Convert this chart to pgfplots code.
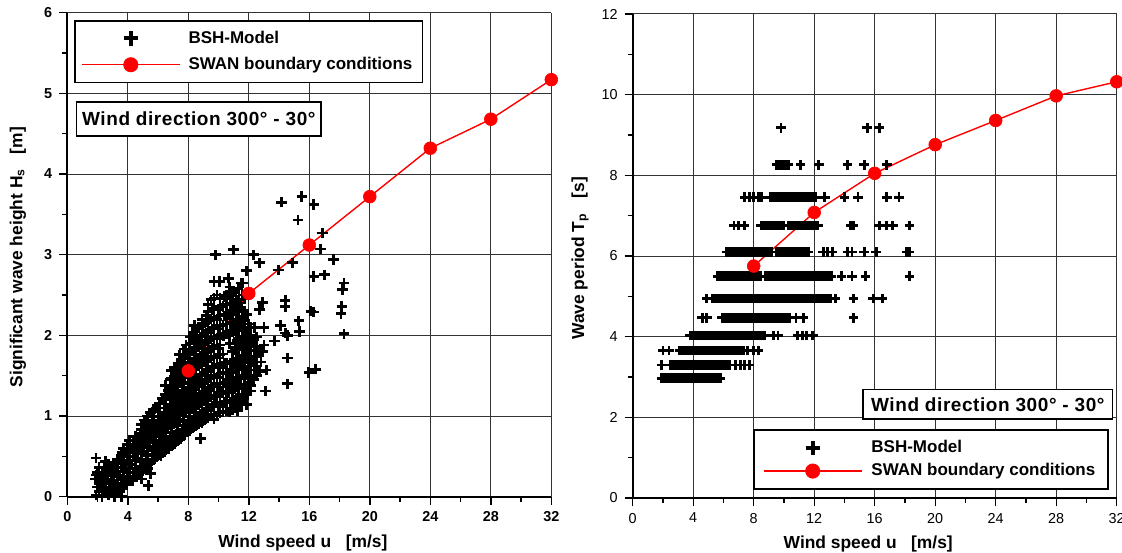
\documentclass[border=0pt]{standalone}
\usepackage{fontspec}
\setmainfont{Liberation Sans}
\newfontfamily\boxfont[LetterSpace=3]{Liberation Sans}
\usepackage{pgfplots}
\pgfplotsset{compat=1.18}
\pgfdeclareplotmark{bplus}{%
  \pgfsetlinewidth{1.4pt}\pgfsetbuttcap
  \pgfpathmoveto{\pgfqpoint{-\pgfplotmarksize}{0pt}}%
  \pgfpathlineto{\pgfqpoint{\pgfplotmarksize}{0pt}}%
  \pgfpathmoveto{\pgfqpoint{0pt}{-\pgfplotmarksize}}%
  \pgfpathlineto{\pgfqpoint{0pt}{\pgfplotmarksize}}%
  \pgfusepathqstroke}
\pgfdeclareplotmark{bplusL}{%
  \pgfsetlinewidth{2pt}\pgfsetbuttcap
  \pgfpathmoveto{\pgfqpoint{-\pgfplotmarksize}{0pt}}%
  \pgfpathlineto{\pgfqpoint{\pgfplotmarksize}{0pt}}%
  \pgfpathmoveto{\pgfqpoint{0pt}{-\pgfplotmarksize}}%
  \pgfpathlineto{\pgfqpoint{0pt}{\pgfplotmarksize}}%
  \pgfusepathqstroke}
\pgfplotsset{
  base/.style={
    scale only axis, width=242pt, height=242pt,
    xmin=0, xmax=32, xtick={0,4,...,32}, minor x tick num=1,
    axis x line*=bottom, axis y line*=left,
    tick align=outside, major tick length=4pt, minor tick length=2.6pt,
    grid=major, major grid style={black!80, line width=0.5pt},
    axis line style={line width=0.8pt, -},
    every tick/.style={black, line width=0.7pt},
    /pgf/number format/assume math mode=true,
    label style={font=\bfseries\fontsize{8.7}{10}\selectfont},
    xlabel={Wind speed u\ \ \ [m/s]},
    xlabel style={at={(axis description cs:0.4866,-0.104)}, anchor=base},
    clip=false,
    legend cell align=left,
    legend image code/.code={\draw[mark repeat=2,mark phase=2,#1,mark size=3.6pt] plot coordinates {(0pt,0pt) (24.5pt,0pt) (49pt,0pt)};},
  },
  bsh/.style={only marks, mark=bplus, black, mark size=2.6pt, legend image post style={mark=bplusL}},
  swan/.style={red, line width=0.7pt, mark=*, mark size=3.2pt, mark options={fill=red, draw=red, line width=0.3pt}},
}
\begin{document}
\begin{tikzpicture}
\useasboundingbox (0,0) rectangle (561pt,276pt);
% ---------------- left panel ----------------
\begin{axis}[base, at={(33.65pt,27.65pt)}, anchor=south west,
  ymin=0, ymax=6, ytick={0,1,...,6}, minor y tick num=1,
  ticklabel style={font=\bfseries\fontsize{7.2}{8}\selectfont},
  ylabel={Significant wave height H\textsubscript{s}\ \ \ [m]},
  ylabel style={at={(axis description cs:-0.1019,0.495)}, anchor=center},
  legend style={at={(axis description cs:0.0145,0.985)}, anchor=north west,
    draw=black, line width=0.8pt, fill=white, font=\bfseries\fontsize{8.5}{10}\selectfont,
    inner xsep=3pt, inner ysep=3pt, row sep=1.5pt, column sep=2pt},
]
\addplot[bsh] coordinates {
(1.9,0.02)(2.0,0.12)(1.85,0.22)(2.0,0.3)
(2.3,0.0)(2.4,0.1)(2.25,0.2)(2.35,0.3)
(2.7,0.02)(2.8,0.12)(2.65,0.22)(2.75,0.32)(2.7,0.4)
(3.1,0.0)(3.2,0.1)(3.05,0.2)(3.15,0.3)(3.1,0.42)
(3.5,0.06)(3.6,0.16)(3.45,0.26)(3.55,0.36)(3.5,0.46)(3.6,0.55)
(3.9,0.15)(4.0,0.25)(3.85,0.35)(3.95,0.45)(3.9,0.55)(4.0,0.65)
(4.3,0.2)(4.4,0.3)(4.25,0.4)(4.35,0.5)(4.3,0.6)(4.4,0.7)
(4.7,0.28)(4.8,0.38)(4.65,0.48)(4.75,0.58)(4.7,0.68)(4.8,0.78)
(5.1,0.35)(5.2,0.46)(5.05,0.56)(5.15,0.66)(5.1,0.76)(5.2,0.86)(5.1,0.95)
(5.5,0.42)(5.6,0.52)(5.45,0.62)(5.55,0.72)(5.5,0.83)(5.6,0.94)(5.5,1.04)
(5.9,0.5)(6.0,0.6)(5.85,0.7)(5.95,0.8)(5.9,0.9)(6.0,1.0)(5.9,1.1)
(6.3,0.55)(6.4,0.66)(6.25,0.77)(6.35,0.88)(6.3,0.99)(6.4,1.1)(6.3,1.22)
(6.7,0.6)(6.8,0.72)(6.65,0.84)(6.75,0.96)(6.7,1.08)(6.8,1.2)(6.7,1.32)(6.8,1.45)
(7.1,0.66)(7.2,0.78)(7.05,0.9)(7.15,1.02)(7.1,1.14)(7.2,1.26)(7.1,1.38)(7.2,1.5)(7.1,1.6)
(7.5,0.72)(7.6,0.84)(7.45,0.96)(7.55,1.08)(7.5,1.2)(7.6,1.32)(7.5,1.44)(7.6,1.56)(7.5,1.68)(7.4,1.76)
(7.9,0.8)(8.0,0.92)(7.85,1.04)(7.95,1.16)(7.9,1.28)(8.0,1.4)(7.9,1.52)(8.0,1.64)(7.9,1.76)(7.85,1.88)
(8.3,0.85)(8.4,0.97)(8.25,1.09)(8.35,1.21)(8.3,1.33)(8.4,1.45)(8.3,1.57)(8.4,1.69)(8.3,1.81)(8.4,1.93)(8.3,2.04)
(8.7,0.9)(8.8,1.02)(8.65,1.14)(8.75,1.26)(8.7,1.38)(8.8,1.5)(8.7,1.62)(8.8,1.74)(8.7,1.86)(8.8,1.98)(8.7,2.1)
(9.1,0.95)(9.2,1.07)(9.05,1.19)(9.15,1.31)(9.1,1.43)(9.2,1.55)(9.1,1.67)(9.2,1.79)(9.1,1.91)(9.2,2.03)(9.1,2.15)(9.2,2.25)
(9.5,1.0)(9.6,1.12)(9.45,1.24)(9.55,1.36)(9.5,1.48)(9.6,1.6)(9.5,1.72)(9.6,1.84)(9.5,1.96)(9.6,2.08)(9.5,2.2)(9.6,2.32)(9.5,2.44)
(9.9,1.0)(10.0,1.12)(9.85,1.24)(9.95,1.36)(9.9,1.48)(10.0,1.6)(9.9,1.72)(10.0,1.84)(9.9,1.96)(10.0,2.08)(9.9,2.2)(10.0,2.32)(9.9,2.5)
(10.3,1.05)(10.4,1.17)(10.25,1.29)(10.35,1.41)(10.3,1.53)(10.4,1.65)(10.3,1.77)(10.35,2.0)(10.3,2.12)(10.4,2.24)(10.3,2.36)(10.4,2.48)
(10.7,1.05)(10.8,1.17)(10.65,1.29)(10.75,1.41)(10.7,1.53)(10.8,1.65)(10.75,1.9)(10.7,2.02)(10.8,2.14)(10.7,2.26)(10.8,2.38)(10.7,2.5)(10.75,2.6)
(11.1,1.1)(11.2,1.22)(11.05,1.34)(11.15,1.46)(11.1,1.58)(11.2,1.7)(11.1,1.82)(11.2,1.94)(11.1,2.06)(11.2,2.18)(11.1,2.3)(11.2,2.42)(11.1,2.54)
(11.5,1.15)(11.6,1.27)(11.45,1.39)(11.55,1.51)(11.5,1.63)(11.6,1.75)(11.5,1.87)(11.6,1.99)(11.5,2.11)(11.6,2.23)(11.5,2.35)(11.6,2.5)(11.5,2.65)
(11.9,1.3)(12.0,1.42)(11.85,1.54)(11.95,1.66)(11.9,1.78)(12.0,1.9)(11.9,2.02)(12.0,2.14)(11.9,2.26)(11.85,2.8)
(12.3,1.45)(12.4,1.57)(12.25,1.69)(12.35,1.81)(12.3,1.95)(12.4,2.1)
(12.7,1.55)(12.8,1.67)(12.7,1.8)
(2.1,0.06)(2.1,0.16)(2.1,0.26)(2.1,0.36)
(2.5,0.06)(2.5,0.16)(2.5,0.26)(2.5,0.36)
(2.9,0.07)(2.9,0.17)(2.9,0.27)(2.9,0.37)
(3.3,0.05)(3.3,0.15)(3.3,0.25)(3.3,0.36)(3.3,0.46)
(3.7,0.11)(3.7,0.21)(3.7,0.31)(3.7,0.41)(3.7,0.51)(3.7,0.6)
(4.1,0.2)(4.1,0.3)(4.1,0.4)(4.1,0.5)(4.1,0.6)(4.1,0.7)
(4.5,0.25)(4.5,0.35)(4.5,0.45)(4.5,0.55)(4.5,0.65)(4.5,0.75)
(4.9,0.32)(4.9,0.43)(4.9,0.53)(4.9,0.63)(4.9,0.73)(4.9,0.83)(4.9,0.9)
(5.3,0.4)(5.3,0.51)(5.3,0.61)(5.3,0.71)(5.3,0.81)(5.3,0.91)(5.3,1.0)
(5.7,0.46)(5.7,0.57)(5.7,0.67)(5.7,0.77)(5.7,0.88)(5.7,0.99)(5.7,1.08)
(6.1,0.52)(6.1,0.63)(6.1,0.74)(6.1,0.85)(6.1,0.95)(6.1,1.05)(6.1,1.16)
(6.5,0.58)(6.5,0.69)(6.5,0.8)(6.5,0.92)(6.5,1.03)(6.5,1.15)(6.5,1.27)(6.5,1.38)
(6.9,0.63)(6.9,0.75)(6.9,0.87)(6.9,0.99)(6.9,1.11)(6.9,1.23)(6.9,1.35)(6.9,1.47)(6.9,1.56)
(7.3,0.69)(7.3,0.81)(7.3,0.93)(7.3,1.05)(7.3,1.17)(7.3,1.29)(7.3,1.41)(7.3,1.53)(7.3,1.65)
(7.7,0.76)(7.7,0.88)(7.7,1.0)(7.7,1.12)(7.7,1.24)(7.7,1.36)(7.7,1.48)(7.7,1.6)(7.7,1.72)(7.7,1.83)
(8.1,0.82)(8.1,0.94)(8.1,1.06)(8.1,1.18)(8.1,1.3)(8.1,1.42)(8.1,1.54)(8.1,1.66)(8.1,1.78)(8.1,1.9)(8.1,1.98)
(8.5,0.88)(8.5,1.0)(8.5,1.12)(8.5,1.24)(8.5,1.36)(8.5,1.48)(8.5,1.6)(8.5,1.72)(8.5,1.84)(8.5,1.96)(8.5,2.08)
(8.9,0.92)(8.9,1.04)(8.9,1.16)(8.9,1.28)(8.9,1.4)(8.9,1.52)(8.9,1.64)(8.9,1.76)(8.9,1.88)(8.9,2.0)(8.9,2.12)(8.9,2.2)
(9.3,0.98)(9.3,1.1)(9.3,1.22)(9.3,1.34)(9.3,1.46)(9.3,1.58)(9.3,1.7)(9.3,1.82)(9.3,1.94)(9.3,2.06)(9.3,2.18)(9.3,2.3)(9.3,2.38)
(9.7,1.02)(9.7,1.14)(9.7,1.26)(9.7,1.38)(9.7,1.5)(9.7,1.62)(9.7,1.74)(9.7,1.86)(9.7,1.98)(9.7,2.1)(9.7,2.22)(9.7,2.34)(9.7,2.46)
(10.1,1.04)(10.1,1.16)(10.1,1.28)(10.1,1.4)(10.1,1.52)(10.1,1.64)(10.1,1.76)(10.1,1.88)(10.1,2.0)(10.1,2.12)(10.1,2.24)(10.1,2.36)(10.1,2.46)
(10.5,1.06)(10.5,1.18)(10.5,1.3)(10.5,1.42)(10.5,1.54)(10.5,1.66)(10.5,2.02)(10.5,2.14)(10.5,2.26)(10.5,2.38)(10.5,2.5)
(10.9,1.08)(10.9,1.2)(10.9,1.32)(10.9,1.44)(10.9,1.56)(10.9,1.68)(10.9,1.8)(10.9,2.04)(10.9,2.16)(10.9,2.28)(10.9,2.4)(10.9,2.52)
(11.3,1.12)(11.3,1.24)(11.3,1.36)(11.3,1.48)(11.3,1.6)(11.3,1.72)(11.3,1.84)(11.3,1.96)(11.3,2.08)(11.3,2.2)(11.3,2.32)(11.3,2.44)(11.3,2.58)
(11.7,1.22)(11.7,1.34)(11.7,1.46)(11.7,1.58)(11.7,1.7)(11.7,1.82)(11.7,1.94)(11.7,2.06)(11.7,2.18)(11.7,2.3)(11.7,2.45)
(12.1,1.38)(12.1,1.5)(12.1,1.62)(12.1,1.74)(12.1,1.86)(12.1,1.98)(12.1,2.1)
(12.5,1.5)(12.5,1.62)(12.5,1.74)(12.5,1.86)(12.5,1.98)
(1.9,0.48)(2.5,0.44)(1.9,0.27)(3.6,0.0)(3.1,0.0)
(14.15,3.65)(15.5,3.72)(16.3,3.62)(15.25,3.43)(16.86,3.27)(16.75,3.07)(17.6,2.94)
(16.3,2.73)(17.0,2.75)(18.3,2.65)(18.2,2.57)(18.15,2.36)(18.1,2.27)(18.3,2.02)
(16.1,2.30)(16.3,2.29)(15.97,1.54)(16.4,1.58)(14.55,1.72)(14.55,1.40)(14.4,2.03)
(14.55,2.0)(15.3,2.18)(15.35,2.05)(14.4,2.43)(14.4,2.36)(14.1,2.12)(13.7,1.93)
(13.96,2.81)(14.9,2.9)(13.0,2.1)(13.1,1.31)(13.15,1.57)(12.7,2.32)(12.9,2.41)
(12.7,2.9)(12.3,3.0)(11.85,2.8)(11.0,3.06)(9.8,3.0)(10.66,2.71)(9.7,2.67)(10.06,2.67)
(11.6,2.65)(9.7,2.45)(8.4,2.12)(13.0,1.88)(12.9,1.8)(12.4,1.67)(12.1,1.31)(11.85,1.14)
(11.25,1.07)(9.7,0.96)(8.8,0.72)(7.1,0.66)(6.2,0.51)(5.35,0.35)(5.5,0.29)(5.35,0.14)(4.9,0.22)
};
\addlegendentry{BSH-Model}
\addplot[swan] coordinates {(8,1.56)(12,2.52)(16,3.12)(20,3.72)(24,4.32)(28,4.68)(32,5.17)};
\addlegendentry{SWAN boundary conditions}
\node[draw=black, line width=0.8pt, fill=white, anchor=north west,
  minimum width=122.3pt, inner xsep=2.3pt, minimum height=17pt,
  font=\boxfont\bfseries\fontsize{9.5}{11}\selectfont]
  at (axis description cs:0.0174,0.8176) {Wind direction 300° - 30°};
\end{axis}
% ---------------- right panel ----------------
\begin{axis}[base, at={(316.35pt,27pt)}, anchor=south west,
  ymin=0, ymax=12, ytick={0,2,...,12}, minor y tick num=1,
  ticklabel style={font=\fontsize{7.2}{8}\selectfont},
  ylabel={Wave period T\textsubscript{p}\ \ \ [s]},
  ylabel style={at={(axis description cs:-0.1089,0.495)}, anchor=center},
  legend style={at={(axis description cs:0.249,0.142)}, anchor=north west,
    draw=black, line width=0.8pt, fill=white, font=\bfseries\fontsize{8.5}{10}\selectfont,
    inner xsep=4.5pt, inner ysep=3pt, row sep=0pt, column sep=2.5pt},
]
\addplot[bsh, mark size=2.4pt] coordinates {
(1.9,2.97)(2.05,2.97)(2.2,2.97)(2.35,2.97)(2.5,2.97)(2.65,2.97)(2.8,2.97)(2.95,2.97)(3.1,2.97)(3.25,2.97)(3.4,2.97)(3.55,2.97)(3.7,2.97)(3.85,2.97)(4.0,2.97)(4.15,2.97)(4.3,2.97)(4.45,2.97)(4.6,2.97)(4.75,2.97)(4.9,2.97)(5.05,2.97)(5.2,2.97)(5.35,2.97)(5.5,2.97)(5.65,2.97)(5.8,2.97)
(1.9,3.30)(2.5,3.30)(2.65,3.30)(2.8,3.30)(2.95,3.30)(3.1,3.30)(3.25,3.30)(3.4,3.30)(3.55,3.30)(3.7,3.30)(3.85,3.30)(4.0,3.30)(4.15,3.30)(4.3,3.30)(4.45,3.30)(4.6,3.30)(4.75,3.30)(4.9,3.30)(5.05,3.30)(5.2,3.30)(5.35,3.30)(5.5,3.30)(5.65,3.30)(5.8,3.30)(5.95,3.30)(6.1,3.30)(6.25,3.30)(6.4,3.30)(6.8,3.30)(7.1,3.30)(7.4,3.30)(7.7,3.30)
(2.0,3.66)(2.4,3.66)(3.1,3.66)(3.25,3.66)(3.4,3.66)(3.55,3.66)(3.7,3.66)(3.85,3.66)(4.0,3.66)(4.15,3.66)(4.3,3.66)(4.45,3.66)(4.6,3.66)(4.75,3.66)(4.9,3.66)(5.05,3.66)(5.2,3.66)(5.35,3.66)(5.5,3.66)(5.65,3.66)(5.8,3.66)(5.95,3.66)(6.1,3.66)(6.25,3.66)(6.4,3.66)(6.55,3.66)(6.7,3.66)(6.85,3.66)(7.0,3.66)(7.15,3.66)(7.3,3.66)(7.6,3.66)(8.0,3.66)(8.3,3.66)
(3.8,4.03)(3.95,4.03)(4.1,4.03)(4.25,4.03)(4.4,4.03)(4.55,4.03)(4.7,4.03)(4.85,4.03)(5.0,4.03)(5.15,4.03)(5.3,4.03)(5.45,4.03)(5.6,4.03)(5.75,4.03)(5.9,4.03)(6.05,4.03)(6.2,4.03)(6.35,4.03)(6.5,4.03)(6.65,4.03)(6.8,4.03)(6.95,4.03)(7.1,4.03)(7.25,4.03)(7.4,4.03)(7.55,4.03)(7.7,4.03)(7.85,4.03)(8.0,4.03)(8.15,4.03)(8.3,4.03)(8.45,4.03)(8.6,4.03)(8.75,4.03)(9.3,4.03)(9.6,4.03)(10.9,4.03)(11.2,4.03)(11.5,4.03)(11.9,4.03)
(4.6,4.47)(4.9,4.47)(5.9,4.47)(6.05,4.47)(6.2,4.47)(6.35,4.47)(6.5,4.47)(6.65,4.47)(6.8,4.47)(6.95,4.47)(7.1,4.47)(7.25,4.47)(7.4,4.47)(7.55,4.47)(7.7,4.47)(7.85,4.47)(8.0,4.47)(8.15,4.47)(8.3,4.47)(8.45,4.47)(8.6,4.47)(8.75,4.47)(8.9,4.47)(9.05,4.47)(9.2,4.47)(9.35,4.47)(9.5,4.47)(9.65,4.47)(9.8,4.47)(9.95,4.47)(10.1,4.47)(10.25,4.47)(10.4,4.47)(10.8,4.47)(11.3,4.47)(14.6,4.47)
(4.9,4.95)(5.3,4.95)(5.45,4.95)(5.6,4.95)(5.75,4.95)(5.9,4.95)(6.05,4.95)(6.2,4.95)(6.35,4.95)(6.5,4.95)(6.65,4.95)(6.8,4.95)(6.95,4.95)(7.1,4.95)(7.25,4.95)(7.4,4.95)(7.55,4.95)(7.7,4.95)(7.85,4.95)(8.0,4.95)(8.15,4.95)(8.3,4.95)(8.45,4.95)(8.6,4.95)(8.75,4.95)(8.9,4.95)(9.05,4.95)(9.2,4.95)(9.35,4.95)(9.5,4.95)(9.65,4.95)(9.8,4.95)(9.95,4.95)(10.1,4.95)(10.25,4.95)(10.4,4.95)(10.55,4.95)(10.7,4.95)(10.85,4.95)(11.0,4.95)(11.15,4.95)(11.3,4.95)(11.45,4.95)(11.6,4.95)(11.75,4.95)(11.9,4.95)(12.05,4.95)(12.2,4.95)(12.35,4.95)(12.5,4.95)(12.65,4.95)(12.8,4.95)(12.95,4.95)(13.1,4.95)(13.4,4.95)(14.6,4.95)(15.9,4.95)(16.5,4.95)
(5.6,5.50)(5.75,5.50)(5.9,5.50)(6.05,5.50)(6.2,5.50)(6.35,5.50)(6.5,5.50)(6.65,5.50)(6.8,5.50)(6.95,5.50)(7.1,5.50)(7.25,5.50)(7.4,5.50)(7.55,5.50)(7.7,5.50)(7.85,5.50)(8.0,5.50)(8.15,5.50)(8.3,5.50)(8.45,5.50)(8.8,5.50)(8.95,5.50)(9.1,5.50)(9.25,5.50)(9.4,5.50)(9.55,5.50)(9.7,5.50)(9.85,5.50)(10.0,5.50)(10.15,5.50)(10.3,5.50)(10.45,5.50)(10.6,5.50)(10.75,5.50)(10.9,5.50)(11.05,5.50)(11.2,5.50)(11.35,5.50)(11.5,5.50)(11.65,5.50)(11.8,5.50)(11.95,5.50)(12.1,5.50)(12.25,5.50)(12.4,5.50)(12.55,5.50)(12.7,5.50)(12.85,5.50)(13.0,5.50)(13.15,5.50)(13.8,5.50)(14.5,5.50)(15.4,5.50)(18.3,5.50)
(6.2,6.10)(6.35,6.10)(6.5,6.10)(6.65,6.10)(6.8,6.10)(6.95,6.10)(7.1,6.10)(7.25,6.10)(7.4,6.10)(7.55,6.10)(7.7,6.10)(7.85,6.10)(8.0,6.10)(8.15,6.10)(8.3,6.10)(8.45,6.10)(8.6,6.10)(8.75,6.10)(8.9,6.10)(9.05,6.10)(9.2,6.10)(9.5,6.10)(9.65,6.10)(9.8,6.10)(9.95,6.10)(10.1,6.10)(10.25,6.10)(10.4,6.10)(10.55,6.10)(10.7,6.10)(10.85,6.10)(11.0,6.10)(11.15,6.10)(11.3,6.10)(11.45,6.10)(11.6,6.10)(12.6,6.10)(12.9,6.10)(13.2,6.10)(14.2,6.10)(14.5,6.10)(15.3,6.10)(16.1,6.10)(18.1,6.10)(18.3,6.10)
(6.7,6.76)(7.0,6.76)(7.4,6.76)(8.5,6.76)(8.65,6.76)(8.8,6.76)(8.95,6.76)(9.1,6.76)(9.25,6.76)(9.4,6.76)(9.55,6.76)(9.7,6.76)(9.85,6.76)(10.0,6.76)(10.3,6.76)(10.45,6.76)(10.6,6.76)(10.75,6.76)(10.9,6.76)(11.05,6.76)(11.2,6.76)(11.35,6.76)(11.5,6.76)(11.65,6.76)(11.8,6.76)(11.95,6.76)(12.1,6.76)(12.25,6.76)(14.4,6.76)(14.6,6.76)(16.3,6.76)(16.8,6.76)(17.2,6.76)(18.3,6.76)
(7.4,7.46)(7.7,7.46)(8.0,7.46)(8.3,7.46)(8.5,7.46)(9.1,7.46)(9.25,7.46)(9.4,7.46)(9.55,7.46)(9.7,7.46)(9.85,7.46)(10.0,7.46)(10.15,7.46)(10.3,7.46)(10.45,7.46)(10.6,7.46)(10.75,7.46)(10.9,7.46)(11.05,7.46)(11.2,7.46)(11.35,7.46)(11.5,7.46)(11.65,7.46)(11.8,7.46)(11.95,7.46)(12.1,7.46)(12.7,7.46)(14.0,7.46)(14.9,7.46)(16.8,7.46)(17.6,7.46)
(9.5,8.26)(9.65,8.26)(9.8,8.26)(9.95,8.26)(10.1,8.26)(10.3,8.26)(11.1,8.26)(12.3,8.26)(14.2,8.26)(15.3,8.26)(16.8,8.26)
(9.8,9.18)(15.5,9.18)(16.3,9.18)
};
\addlegendentry{BSH-Model}
\addplot[swan] coordinates {(8,5.75)(12,7.08)(16,8.05)(20,8.76)(24,9.36)(28,9.97)(32,10.32)};
\addlegendentry{SWAN boundary conditions}
\node[draw=black, line width=0.8pt, fill=white, anchor=north west,
  minimum width=124.7pt, inner xsep=3pt, minimum height=14.8pt,
  font=\boxfont\bfseries\fontsize{9.5}{11}\selectfont]
  at (axis description cs:0.4744,0.2258) {Wind direction 300° - 30°};
\end{axis}
\end{tikzpicture}
\end{document}
